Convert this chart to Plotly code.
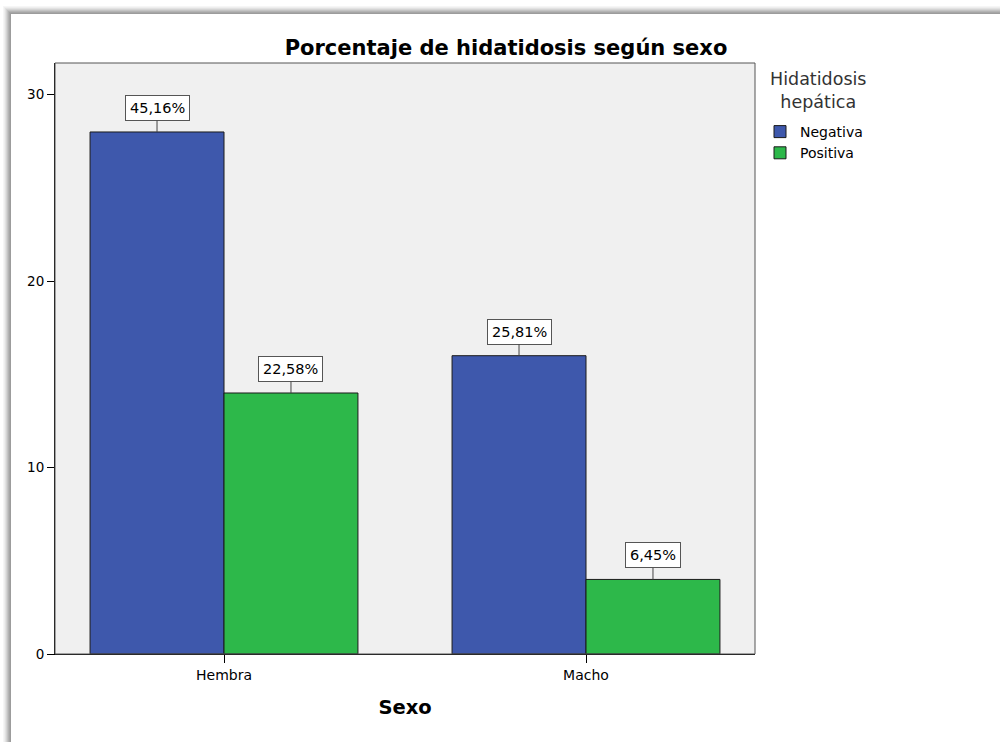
import plotly.graph_objects as go

# Recuento de casos por sexo y resultado de hidatidosis hepática
sexo = ["Hembra", "Macho"]
negativa = [28, 16]
positiva = [14, 4]
etiquetas_negativa = ["45,16%", "25,81%"]
etiquetas_positiva = ["22,58%", "6,45%"]
y_ticks = [0, 10, 20, 30]

AZUL = "#3E58AC"
VERDE = "#2DB84A"
FONDO = "#F0F0F0"
FUENTE = "DejaVu Sans, Verdana, sans-serif"

W, H = 1000, 742
ML, MR, MT, MB = 55, 245, 63, 88
PW, PH = W - ML - MR, H - MT - MB


def px_x(px):
    return (px - ML) / PW


def px_y(py):
    return (H - MB - py) / PH


fig = go.Figure()
fig.add_trace(go.Bar(
    x=sexo, y=negativa, name="Negativa",
    marker=dict(color=AZUL, line=dict(color="#1a1a1a", width=1)),
))
fig.add_trace(go.Bar(
    x=sexo, y=positiva, name="Positiva",
    marker=dict(color=VERDE, line=dict(color="#1a1a1a", width=1)),
))

bargap = 0.26
ancho = (1 - bargap) / 2

anotaciones = []
for i in range(len(sexo)):
    for desplaz, valor, texto in ((-ancho / 2, negativa[i], etiquetas_negativa[i]),
                                  (ancho / 2, positiva[i], etiquetas_positiva[i])):
        anotaciones.append(dict(
            x=i + desplaz, y=valor, xref="x", yref="y",
            text=texto, showarrow=True, arrowhead=0, arrowwidth=1,
            arrowcolor="#444444", ax=0, ay=-24,
            bgcolor="white", bordercolor="#555555", borderwidth=1, borderpad=4,
            font=dict(family=FUENTE, size=14.5, color="black"),
        ))

# Título de la leyenda
anotaciones.append(dict(
    x=px_x(818), y=px_y(90), xref="paper", yref="paper",
    text="Hidatidosis<br>hepática", showarrow=False, align="center",
    xanchor="center", yanchor="middle",
    font=dict(family=FUENTE, size=17.5, color="#333333"),
))

# Sombra del marco superior e izquierdo
formas = []
grises = ["#f6f6f6", "#eeeeee", "#e2e2e2", "#d4d4d4", "#c4c4c4", "#b4b4b4", "#a6a6a6", "#9c9c9c"]
for k, g in enumerate(grises):
    yy = 6 + k
    formas.append(dict(type="line", xref="paper", yref="paper",
                       x0=px_x(3 + k), x1=px_x(1000), y0=px_y(yy + 0.5), y1=px_y(yy + 0.5),
                       line=dict(color=g, width=1), layer="above"))
    xx = 3 + k
    formas.append(dict(type="line", xref="paper", yref="paper",
                       x0=px_x(xx + 0.5), x1=px_x(xx + 0.5), y0=px_y(6 + k), y1=px_y(742),
                       line=dict(color=g, width=1), layer="above"))
# Borde del área del gráfico
formas.append(dict(type="rect", xref="paper", yref="paper", x0=0, x1=1, y0=0, y1=1,
                   line=dict(color="#555555", width=1), layer="above"))

fig.update_layout(
    width=W, height=H,
    margin=dict(l=ML, r=MR, t=MT, b=MB),
    paper_bgcolor="white", plot_bgcolor=FONDO,
    barmode="group", bargap=bargap, bargroupgap=0,
    font=dict(family=FUENTE, size=13, color="black"),
    title=dict(text="<b>Porcentaje de hidatidosis según sexo</b>",
               font=dict(family=FUENTE, size=21, color="black"),
               xref="paper", x=px_x(506), xanchor="center",
               yref="container", y=1 - 48 / H, yanchor="middle"),
    xaxis=dict(
        type="category", range=[-169 / 362, 1 + 169 / 362],
        showgrid=False, zeroline=False,
        showline=True, linecolor="black", linewidth=1,
        ticks="outside", ticklen=8, tickcolor="black",
        tickfont=dict(family=FUENTE, size=14, color="black"),
        title=dict(text="<b>Sexo</b>", font=dict(family=FUENTE, size=19.5, color="black"),
                   standoff=18),
    ),
    yaxis=dict(
        range=[0, 31.7], tickvals=y_ticks,
        showgrid=False, zeroline=False,
        showline=True, linecolor="black", linewidth=1,
        ticks="outside", ticklen=7, tickcolor="black",
        tickfont=dict(family=FUENTE, size=13.5, color="black"),
    ),
    legend=dict(
        x=px_x(760), y=px_y(116), xanchor="left", yanchor="top",
        font=dict(family=FUENTE, size=14, color="black"),
        itemwidth=30, tracegroupgap=0, bgcolor="rgba(0,0,0,0)",
    ),
    annotations=anotaciones,
    shapes=formas,
)

fig.write_html("out.html")
